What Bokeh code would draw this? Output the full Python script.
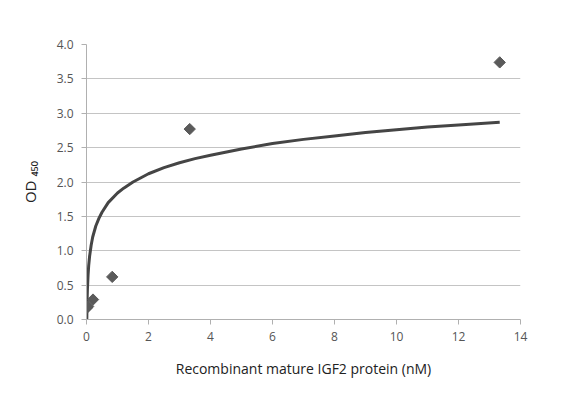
import math
from bokeh.plotting import figure
from bokeh.models import Range1d, FixedTicker, NumeralTickFormatter
from bokeh.embed import file_html
from bokeh.resources import INLINE

# Measured points
conc = [0.013, 0.052, 0.21, 0.83, 3.33, 13.33]
od450 = [0.17, 0.19, 0.29, 0.62, 2.77, 3.74]

# Trendline
curve_x = [0.01, 0.015, 0.02, 0.03, 0.05, 0.07, 0.1, 0.15, 0.2, 0.3, 0.4, 0.5, 0.7, 1.0,
           1.2, 1.5, 2.0, 2.5, 3.0, 3.5, 4.0, 5.0, 6.0, 7.0, 8.0, 9.0, 10.0, 11.0, 12.0, 13.33]
curve_y = [0.0, 0.16, 0.28, 0.44, 0.64, 0.78, 0.92, 1.08, 1.2, 1.36, 1.47, 1.56, 1.70, 1.84,
           1.91, 2.0, 2.12, 2.21, 2.28, 2.34, 2.39, 2.48, 2.56, 2.62, 2.67, 2.72, 2.76, 2.80, 2.83, 2.87]

x_ticks = [0, 2, 4, 6, 8, 10, 12, 14]
y_ticks = [0, 0.5, 1.0, 1.5, 2.0, 2.5, 3.0, 3.5, 4.0]

FONT = "Open Sans"

p = figure(width=565, height=383, output_backend="svg", toolbar_location=None,
           x_range=Range1d(0, 14), y_range=Range1d(0, 4),
           min_border_left=86, min_border_right=45, min_border_top=44, min_border_bottom=64)
p.outline_line_color = None
p.background_fill_color = "white"
p.border_fill_color = "white"

p.xgrid.grid_line_color = None
p.ygrid.grid_line_color = "#c4c4c4"
p.ygrid.grid_line_width = 1
p.ygrid.ticker = FixedTicker(ticks=y_ticks)

p.xaxis.ticker = FixedTicker(ticks=x_ticks)
p.yaxis.ticker = FixedTicker(ticks=y_ticks)
p.yaxis.formatter = NumeralTickFormatter(format="0.0")

for ax in (p.xaxis[0], p.yaxis[0]):
    ax.axis_line_color = "#b0b0b0"
    ax.major_tick_line_color = "#b0b0b0"
    ax.minor_tick_line_color = None
    ax.major_tick_in = 0
    ax.major_tick_out = 5
    ax.major_label_text_font = FONT
    ax.major_label_text_font_size = "12px"
    ax.major_label_text_color = "#555555"
    ax.axis_label_text_font = FONT
    ax.axis_label_text_font_style = "normal"
    ax.axis_label_text_color = "#222222"

p.xaxis.major_label_standoff = 7
p.yaxis.major_label_standoff = 8

p.xaxis.axis_label = "Recombinant mature IGF2 protein (nM)"
p.xaxis.axis_label_text_font_size = "14px"
p.xaxis.axis_label_standoff = 15

p.yaxis.axis_label = "OD \u2084\u2085\u2080"
p.yaxis.axis_label_text_font_size = "15px"
p.yaxis.axis_label_standoff = 14

p.line(curve_x, curve_y, line_color="#454545", line_width=3)
p.scatter(conc, od450, marker="square", angle=math.pi / 4, size=8,
          fill_color="#5a5a5a", line_color="#5a5a5a")

open("out.html", "w").write(file_html(p, INLINE))
